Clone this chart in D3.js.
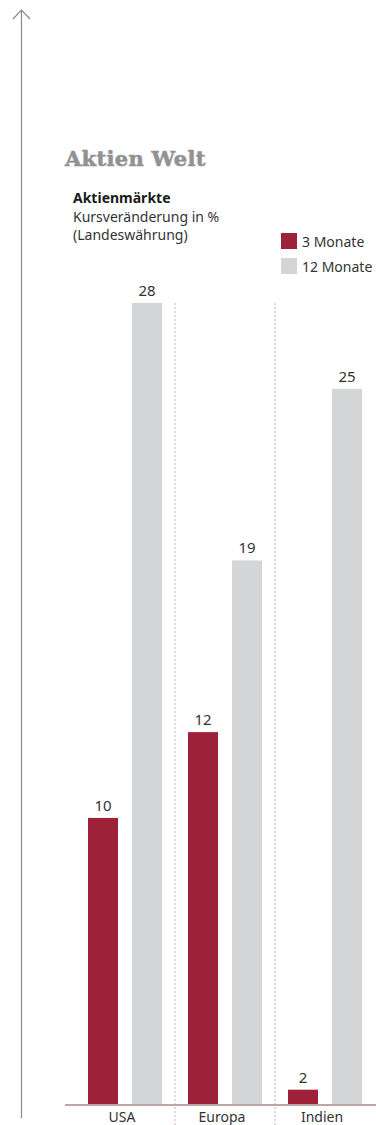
<!DOCTYPE html>
<html>
<head>
<meta charset="utf-8">
<script src="https://cdn.jsdelivr.net/npm/d3@7"></script>
<style>
    body { margin: 0; background: #fff; }
    text { font-family: 'Noto Sans', sans-serif; }
</style>
</head>
<body>
<svg id="chart" width="376" height="1125"></svg>
<script>
// data (bar heights) and the printed labels
let regions = ['USA', 'Europa', 'Indien']
let series = ['3 Monate', '12 Monate']
let months3 = [10, 13, 0.5]
let months12 = [28, 19, 25]
let labels3 = ['10', '12', '2']
let labels12 = ['28', '19', '25']

function main() {
    let svg = d3.select('#chart'),
        base = 1104,
        red = '#9c2139',
        grey = '#d4d5d7'

    let y = d3.scaleLinear().domain([0, 28]).range([base, 303])
    let x = d3.scaleBand().domain(regions).range([75, 375])
    let inner = d3.scaleBand().domain(series).range([13, 87]).paddingInner(14 / 44)

    // arrow axis on the left
    svg.append('line')
        .attr('x1', 21.5).attr('x2', 21.5)
        .attr('y1', 10).attr('y2', 1118)
        .attr('stroke', '#8a8a8a').attr('stroke-width', 1.2)
    svg.append('path')
        .attr('d', 'M13,19 L21.5,10 L30,19')
        .attr('fill', 'none').attr('stroke', '#8a8a8a').attr('stroke-width', 1.2)

    svg.append('text')
        .attr('x', 65).attr('y', 166)
        .style('font-family', "'DejaVu Serif', serif")
        .style('font-weight', 'bold')
        .style('font-size', '21px')
        .style('letter-spacing', '0.3px')
        .attr('fill', '#929292')
        .attr('stroke', '#929292').attr('stroke-width', 0.6)
        .text('Aktien Welt')

    svg.append('text').attr('x', 73).attr('y', 203)
        .style('font-size', '14px').style('font-weight', 'bold')
        .attr('fill', '#1a1a1a').text('Aktienmärkte')
    svg.append('text').attr('x', 73).attr('y', 222)
        .style('font-size', '14px').attr('fill', '#333')
        .text('Kursveränderung in %')
    svg.append('text').attr('x', 73).attr('y', 240)
        .style('font-size', '14px').attr('fill', '#333')
        .text('(Landeswährung)')

    // legend
    let legend = svg.append('g').attr('transform', 'translate(281, 233)')
    series.forEach((s, i) => {
        legend.append('rect')
            .attr('x', 0).attr('y', i * 25)
            .attr('width', 16).attr('height', 16)
            .attr('fill', i === 0 ? red : grey)
        legend.append('text')
            .attr('x', 21).attr('y', i * 25 + 14)
            .style('font-size', '14px').attr('fill', '#333')
            .text(s)
    })

    // dashed separators
    regions.slice(1).forEach(r => {
        svg.append('line')
            .attr('x1', x(r)).attr('x2', x(r))
            .attr('y1', 303).attr('y2', 1125)
            .attr('stroke', '#cfb0b4').attr('stroke-width', 1)
            .attr('stroke-dasharray', '2,2')
    })

    let rows = regions.map((r, i) => ({
        region: r,
        bars: [
            {s: series[0], v: months3[i], label: labels3[i]},
            {s: series[1], v: months12[i], label: labels12[i]}
        ]
    }))

    let groups = svg.selectAll('g.region')
        .data(rows)
        .enter()
        .append('g')
        .attr('class', 'region')
        .attr('transform', d => 'translate(' + x(d.region) + ',0)')

    groups.selectAll('rect')
        .data(d => d.bars)
        .enter()
        .append('rect')
        .attr('x', d => inner(d.s))
        .attr('width', inner.bandwidth())
        .attr('y', d => y(d.v))
        .attr('height', d => base - y(d.v))
        .attr('fill', d => d.s === series[0] ? red : grey)

    groups.selectAll('text.val')
        .data(d => d.bars)
        .enter()
        .append('text')
        .attr('class', 'val')
        .attr('x', d => inner(d.s) + inner.bandwidth() / 2)
        .attr('y', d => y(d.v) - 7)
        .attr('text-anchor', 'middle')
        .style('font-size', '15px').attr('fill', '#333')
        .text(d => d.label)

    // baseline
    svg.append('line')
        .attr('x1', 65).attr('x2', 376)
        .attr('y1', base + 1).attr('y2', base + 1)
        .attr('stroke', '#b9a8a4').attr('stroke-width', 2)

    groups.append('text')
        .attr('x', 47)
        .attr('y', 1122)
        .attr('text-anchor', 'middle')
        .style('font-size', '14px').attr('fill', '#333')
        .text(d => d.region)
}

main()
</script>
</body>
</html>
